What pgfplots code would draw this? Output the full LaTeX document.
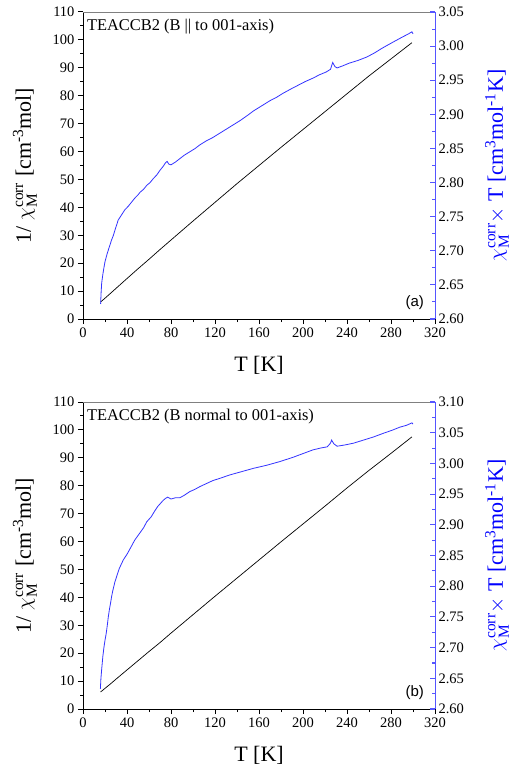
\documentclass[border=0pt]{standalone}
\usepackage{fontspec}
\setmainfont{Liberation Serif}
\newfontfamily\arialfont{Liberation Sans}
\usepackage{amsmath}
\usepackage{pgfplots}
\pgfplotsset{compat=1.18}
\definecolor{curveblue}{RGB}{51,51,255}
\definecolor{spineblue}{RGB}{85,85,255}
\definecolor{labelblue}{RGB}{0,0,255}
\definecolor{topgray}{RGB}{128,128,128}

\pgfplotstableread{
T v
16 6.1
20 7.45
25 9.2
30 10.97
40 14.5
50 18.0
60 21.4
70 24.9
80 28.3
100 35.1
120 41.8
140 48.5
160 55.0
180 61.5
200 67.9
220 74.3
240 80.7
260 87.1
280 93.2
299 99.0
}\invA
\pgfplotstableread{
T v
16 2.622
16.5 2.640
17 2.653
18 2.665
19 2.675
20 2.684
21 2.690
22 2.696
23 2.701
24 2.706
25 2.711
26 2.716
27.5 2.722
29 2.730
30 2.735
32 2.745
34 2.750
36 2.755
38 2.760
41 2.765
44 2.771
47 2.777
50 2.782
52 2.786
55 2.790
58 2.796
61 2.800
64 2.806
67 2.811
70 2.818
73 2.824
75 2.829
76.5 2.831
78 2.827
80 2.826
84 2.830
88 2.835
92 2.840
97 2.845
102 2.850
106 2.855
112 2.861
118 2.866
125 2.873
130 2.878
136 2.884
143 2.891
150 2.899
155 2.905
162 2.912
170 2.920
176 2.925
182 2.931
190 2.938
196 2.943
202 2.948
209 2.953
215 2.958
221 2.962
225 2.966
227 2.976
229 2.970
231 2.968
236 2.971
242 2.975
250 2.979
258 2.984
265 2.990
272 2.997
282 3.006
290 3.013
296 3.018
299 3.021
300 3.018
}\chiA
\pgfplotstableread{
T v
16 6.1
20 7.4
25 9.0
30 10.7
40 14.0
50 17.3
60 20.6
70 23.8
80 27.2
100 33.8
120 40.4
140 46.9
160 53.4
180 59.9
200 66.3
220 72.7
240 79.2
260 85.5
280 91.6
299 97.5
}\invB
\pgfplotstableread{
T v
15.8 2.633
16.3 2.650
17 2.665
18 2.685
19 2.700
20 2.712
21 2.722
22 2.735
23 2.750
24 2.762
25 2.772
26 2.783
27 2.792
29 2.807
31 2.818
33 2.829
36.7 2.843
40 2.852
44 2.865
47 2.875
51 2.885
55 2.895
58 2.905
62 2.913
65 2.922
68 2.930
70 2.934
73 2.940
75 2.943
77 2.945
80 2.942
84 2.944
88 2.944
92 2.948
97 2.954
102 2.958
106 2.962
112 2.967
118 2.972
125 2.976
133 2.981
143 2.986
155 2.992
167 2.997
179 3.003
191 3.010
200 3.016
209 3.022
216 3.025
222 3.027
225 3.033
226 3.038
228 3.032
231 3.028
238 3.030
246 3.033
255 3.038
264 3.043
273 3.049
281 3.054
288 3.059
294 3.062
299 3.066
300 3.064
}\chiB

\pgfplotsset{
  base/.style={
    width=352pt, height=307pt, scale only axis,
    xmin=0, xmax=320,
    major tick length=5pt, minor tick length=3pt,
    tick label style={font=\rmfamily\fontsize{14.5}{16}\selectfont},
    /pgf/number format/assume math mode=true,
    label style={font=\rmfamily\fontsize{22}{24}\selectfont},
  },
  leftax/.style={
    base,
    axis x line*=bottom, axis y line*=left,
    tick align=outside,
    axis line style={black, line width=0.9pt},
    ymin=0, ymax=110,
    xtick={0,40,80,120,160,200,240,280,320}, minor x tick num=1,
    ytick={0,10,20,30,40,50,60,70,80,90,100,110}, minor y tick num=1,
    xtick style={black, line width=1pt},
    ytick style={black, line width=1pt},
    xlabel={T [K]},
    ylabel={1/ $\chi_{\text{M}}^{\text{corr}}$ [cm$^{\text{-3}}$mol]},
    xlabel style={at={(axis description cs:0.5,-0.15)}, anchor=center},
    ylabel style={at={(axis description cs:-0.165,0.5)}, anchor=center},
  },
  rightax/.style={
    base,
    axis x line=none, axis y line*=right,
    tick align=inside,
    minor y tick num=1,
    y axis line style={spineblue, line width=1pt},
    ytick style={spineblue, line width=1.1pt},
    yticklabel style={/pgf/number format/.cd, fixed, fixed zerofill, precision=2},
    ylabel={$\chi_{\text{M}}^{\text{corr}}\times$ T [cm$^{\text{3}}$mol$^{\text{-1}}$K]},
    ylabel style={labelblue, at={(axis description cs:1.176,0.5)}, anchor=center},
  },
}

\begin{document}
\begin{tikzpicture}
\path[use as bounding box] (0,0) rectangle (514pt,-767pt);

% ---------- panel (a) ----------
\begin{axis}[leftax, at={(83pt,-12pt)}, anchor=north west]
  \draw[topgray, line width=0.9pt] (rel axis cs:0,1) -- (rel axis cs:1,1);
  \addplot[black, line width=0.7pt] table[x=T, y=v] {\invA};
  \node[anchor=north west, inner sep=0pt, font=\fontsize{16.4}{18}\selectfont]
    at (axis description cs:0.011,0.977) {TEACCB2 (B || to 001-axis)};
  \node[anchor=east, inner sep=0pt, font=\arialfont\fontsize{15}{17}\selectfont]
    at (axis description cs:0.969,0.055) {(a)};
\end{axis}
\begin{axis}[rightax, at={(83pt,-12pt)}, anchor=north west,
  ymin=2.60, ymax=3.05,
  ytick={2.60,2.65,2.70,2.75,2.80,2.85,2.90,2.95,3.00,3.05}]
  \addplot[curveblue, line width=0.8pt] table[x=T, y=v] {\chiA};
\end{axis}

% ---------- panel (b) ----------
\begin{axis}[leftax, at={(83pt,-402pt)}, anchor=north west]
  \draw[topgray, line width=0.9pt] (rel axis cs:0,1) -- (rel axis cs:1,1);
  \addplot[black, line width=0.7pt] table[x=T, y=v] {\invB};
  \node[anchor=north west, inner sep=0pt, font=\fontsize{16.4}{18}\selectfont]
    at (axis description cs:0.011,0.977) {TEACCB2 (B normal to 001-axis)};
  \node[anchor=east, inner sep=0pt, font=\arialfont\fontsize{15}{17}\selectfont]
    at (axis description cs:0.969,0.055) {(b)};
\end{axis}
\begin{axis}[rightax, at={(83pt,-402pt)}, anchor=north west,
  ymin=2.60, ymax=3.10,
  ytick={2.60,2.65,2.70,2.75,2.80,2.85,2.90,2.95,3.00,3.05,3.10}]
  \addplot[curveblue, line width=0.8pt] table[x=T, y=v] {\chiB};
\end{axis}
\end{tikzpicture}
\end{document}
